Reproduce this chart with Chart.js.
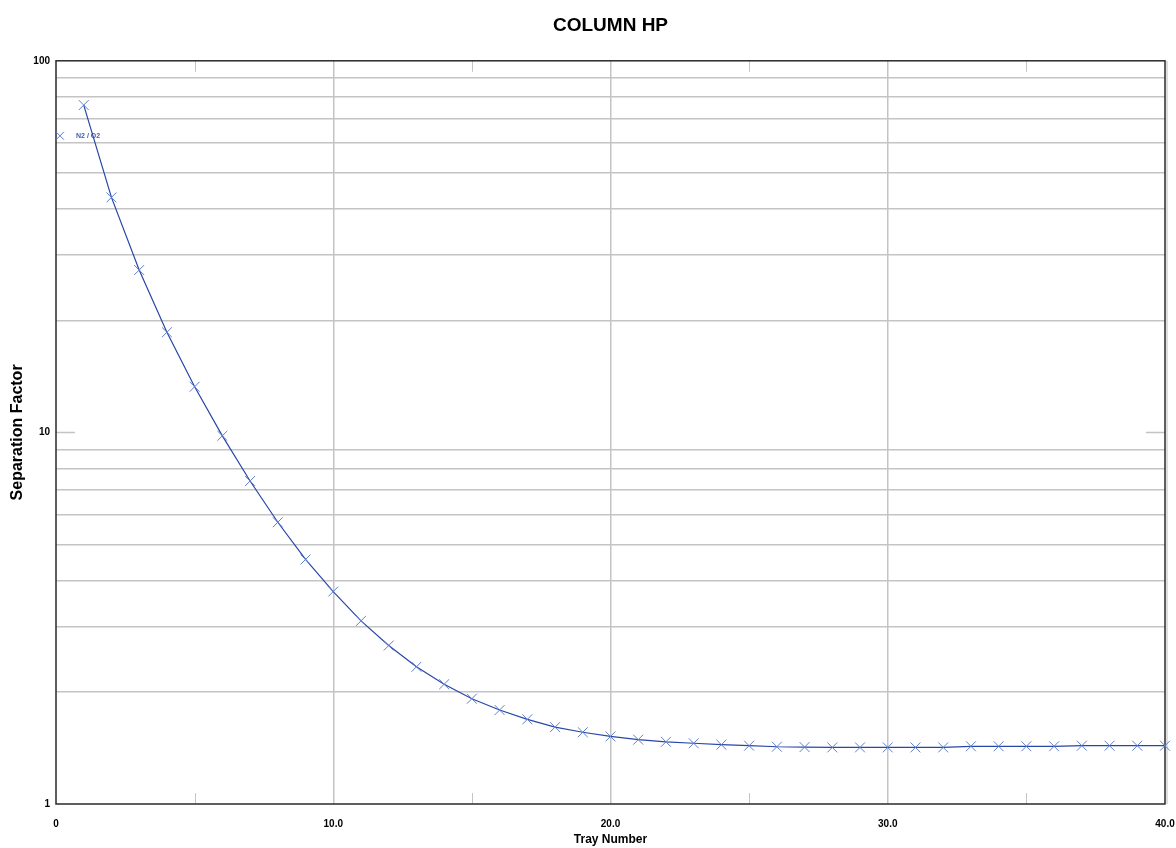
<!DOCTYPE html>
<html>
<head>
<meta charset="utf-8">
<title>COLUMN HP</title>
<script src="https://cdn.jsdelivr.net/npm/chart.js@4/dist/chart.umd.min.js"></script>
<style>
  html, body { margin: 0; padding: 0; background: #ffffff; }
  #wrap { width: 1176px; height: 848px; }
</style>
</head>
<body>
<div id="wrap"><canvas id="c" width="1176" height="848"></canvas></div>
<script>
// Tray numbers and the N2 / O2 separation factor on each tray
const trays = [1, 2, 3, 4, 5, 6, 7, 8, 9, 10,
               11, 12, 13, 14, 15, 16, 17, 18, 19, 20,
               21, 22, 23, 24, 25, 26, 27, 28, 29, 30,
               31, 32, 33, 34, 35, 36, 37, 38, 39, 40];
const n2o2 = [76.0, 42.9, 27.35, 18.6, 13.27, 9.79, 7.40, 5.73, 4.55, 3.73,
              3.11, 2.67, 2.34, 2.10, 1.92, 1.79, 1.69, 1.61, 1.56, 1.52,
              1.49, 1.47, 1.457, 1.444, 1.435, 1.426, 1.423, 1.42, 1.42, 1.42,
              1.42, 1.42, 1.43, 1.43, 1.43, 1.43, 1.435, 1.435, 1.435, 1.435];

// Axis ticks
const xTickValues = [0, 10, 20, 30, 40];
const xTickLabels = ['0', '10.0', '20.0', '30.0', '40.0'];
const xMinorTicks = [5, 15, 25, 35];
const yLabelValues = [1, 10, 100];
const yTickLabels = ['1', '10', '100'];
const yGridValues = [2, 3, 4, 5, 6, 7, 8, 9, 20, 30, 40, 50, 60, 70, 80, 90];
const yShortTicks = [10];

const FONT = '"Liberation Sans", Arial, Helvetica, sans-serif';
const GRID = '#c4c4c4';
const FRAME = '#2a2a2a';
const SERIES_LINE = '#2846a8';
const SERIES_MARK = '#5f7fcc';

// Frame, short interior ticks and the in-plot legend
const framePlugin = {
  id: 'frameAndLegend',
  beforeDatasetsDraw(chart) {
    const { ctx, chartArea: a, scales: { x, y } } = chart;
    ctx.save();
    ctx.strokeStyle = GRID;
    ctx.lineWidth = 1;
    // short ticks along top and bottom edges
    xMinorTicks.forEach(v => {
      const px = Math.round(x.getPixelForValue(v)) + 0.5;
      ctx.beginPath();
      ctx.moveTo(px, a.bottom); ctx.lineTo(px, a.bottom - 11);
      ctx.moveTo(px, a.top); ctx.lineTo(px, a.top + 11);
      ctx.stroke();
    });
    // short ticks along left and right edges
    ctx.lineWidth = 1.5;
    yShortTicks.forEach(v => {
      const py = Math.round(y.getPixelForValue(v)) + 0.5;
      ctx.beginPath();
      ctx.moveTo(a.left, py); ctx.lineTo(a.left + 19, py);
      ctx.moveTo(a.right, py); ctx.lineTo(a.right - 19, py);
      ctx.stroke();
    });
    // frame
    ctx.strokeStyle = '#bdbdbd';
    ctx.lineWidth = 1;
    ctx.beginPath();
    ctx.moveTo(a.right + 2, a.top);
    ctx.lineTo(a.right + 2, a.bottom);
    ctx.stroke();
    ctx.strokeStyle = FRAME;
    ctx.lineWidth = 1.5;
    ctx.strokeRect(a.left, a.top, a.right - a.left, a.bottom - a.top);

    // legend entry
    const ds = chart.data.datasets[0];
    const lx = a.left + 4, ly = a.top + 75;
    ctx.strokeStyle = SERIES_MARK;
    ctx.lineWidth = 1;
    ctx.beginPath();
    ctx.moveTo(lx - 4, ly - 4); ctx.lineTo(lx + 4, ly + 4);
    ctx.moveTo(lx - 4, ly + 4); ctx.lineTo(lx + 4, ly - 4);
    ctx.stroke();
    ctx.fillStyle = '#4262b4';
    ctx.font = 'bold 7px ' + FONT;
    ctx.textAlign = 'left';
    ctx.textBaseline = 'middle';
    ctx.fillText(ds.label, lx + 16, ly + 0.5);
    ctx.restore();
  }
};

new Chart(document.getElementById('c'), {
  type: 'line',
  data: {
    datasets: [{
      label: 'N2 / O2',
      data: trays.map((t, i) => ({ x: t, y: n2o2[i] })),
      borderColor: SERIES_LINE,
      borderWidth: 1.2,
      tension: 0,
      pointStyle: 'crossRot',
      pointRadius: 7,
      pointBorderWidth: 1,
      pointBorderColor: SERIES_MARK,
      pointBackgroundColor: SERIES_MARK,
      fill: false,
      clip: false
    }]
  },
  options: {
    responsive: false,
    animation: false,
    devicePixelRatio: 1,
    layout: { padding: 0 },
    plugins: {
      legend: { display: false },
      tooltip: { enabled: false },
      title: {
        display: true,
        fullSize: false,
        text: 'COLUMN HP',
        color: '#000000',
        font: { family: FONT, size: 19, weight: 'bold', lineHeight: 1.2 },
        padding: { top: 14, bottom: 24 }
      }
    },
    scales: {
      x: {
        type: 'linear',
        min: 0,
        max: 40,
        afterBuildTicks: s => { s.ticks = xTickValues.map(v => ({ value: v })); },
        afterFit: s => { s.height = 44; s.paddingLeft = 0; s.paddingRight = 11; },
        ticks: {
          autoSkip: false,
          maxRotation: 0,
          padding: 14,
          color: '#000000',
          font: { family: FONT, size: 10, weight: 'bold' },
          callback: v => { const i = xTickValues.indexOf(v); return i >= 0 ? xTickLabels[i] : ''; }
        },
        grid: {
          drawTicks: false,
          lineWidth: 1.5,
          color: c => (c.tick && c.tick.value > 0 && c.tick.value < 40) ? GRID : 'rgba(0,0,0,0)'
        },
        border: { display: false },
        title: {
          display: true,
          text: 'Tray Number',
          color: '#000000',
          font: { family: FONT, size: 12, weight: 'bold', lineHeight: 1.2 },
          padding: { top: 0, bottom: 1 }
        }
      },
      y: {
        type: 'logarithmic',
        min: 1,
        max: 100,
        afterBuildTicks: s => {
          s.ticks = yLabelValues.concat(yGridValues).sort((a, b) => a - b).map(v => ({ value: v }));
        },
        afterFit: s => { s.width = 56; },
        ticks: {
          autoSkip: false,
          padding: 6,
          color: '#000000',
          font: { family: FONT, size: 10, weight: 'bold' },
          callback: v => { const i = yLabelValues.indexOf(v); return i >= 0 ? yTickLabels[i] : ''; }
        },
        grid: {
          drawTicks: false,
          lineWidth: 1.5,
          color: c => (c.tick && yGridValues.includes(c.tick.value)) ? GRID : 'rgba(0,0,0,0)'
        },
        border: { display: false },
        title: {
          display: true,
          text: 'Separation Factor',
          color: '#000000',
          font: { family: FONT, size: 16, weight: 'bold', lineHeight: 1.2 },
          padding: { top: 8, bottom: 0 }
        }
      }
    }
  },
  plugins: [framePlugin]
});
</script>
</body>
</html>
